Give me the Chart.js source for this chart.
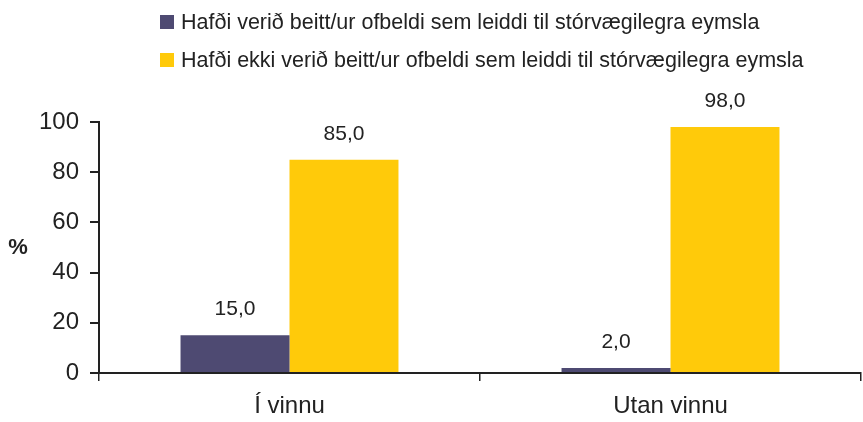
<!DOCTYPE html>
<html>
<head>
<meta charset="utf-8">
<script src="https://cdn.jsdelivr.net/npm/chart.js@4"></script>
<style>
  html, body { margin: 0; padding: 0; background: #fff; }
  #wrap { position: relative; width: 863px; height: 422px; }
  #legend { position: absolute; left: 160px; top: 3px; font-family: "Liberation Sans", Arial, sans-serif; font-size: 21.5px; color: #222; }
  #legend .row { display: flex; align-items: center; height: 38px; }
  #legend .box { width: 14px; height: 14px; margin-right: 7px; flex: none; }
</style>
</head>
<body>
<div id="wrap">
  <div id="legend"></div>
  <canvas id="chart" width="863" height="422"></canvas>
</div>
<script>
// Chart data
const categories = ['Í vinnu', 'Utan vinnu'];
const seriesNames = [
  'Hafði verið beitt/ur ofbeldi sem leiddi til stórvægilegra eymsla',
  'Hafði ekki verið beitt/ur ofbeldi sem leiddi til stórvægilegra eymsla'
];
const injured = [15.0, 2.0];
const notInjured = [85.0, 98.0];
const yTicks = [0, 20, 40, 60, 80, 100];
const colors = ['#4e4a72', '#ffca0a'];

const FONT = '"Liberation Sans", Arial, sans-serif';

// html legend, two rows
const legendEl = document.getElementById('legend');
seriesNames.forEach((name, i) => {
  const row = document.createElement('div');
  row.className = 'row';
  row.innerHTML = `<span class="box" style="background:${colors[i]}"></span><span>${name}</span>`;
  legendEl.appendChild(row);
});

// value labels above bars + horizontal "%" title
const labelsPlugin = {
  id: 'barLabels',
  afterDatasetsDraw(chart) {
    const ctx = chart.ctx;
    ctx.save();
    ctx.fillStyle = '#222';
    ctx.font = '21px ' + FONT;
    ctx.textAlign = 'center';
    ctx.textBaseline = 'alphabetic';
    chart.data.datasets.forEach((ds, i) => {
      chart.getDatasetMeta(i).data.forEach((bar, j) => {
        ctx.fillText(ds.data[j].toFixed(1).replace('.', ','), bar.x, bar.y - 20);
      });
    });
    const area = chart.chartArea;
    ctx.font = 'bold 22px ' + FONT;
    ctx.textBaseline = 'middle';
    ctx.fillText('%', 18, (area.top + area.bottom) / 2);
    ctx.restore();
  }
};

new Chart(document.getElementById('chart'), {
  type: 'bar',
  data: {
    labels: categories,
    datasets: [
      { label: seriesNames[0], data: injured, backgroundColor: colors[0] },
      { label: seriesNames[1], data: notInjured, backgroundColor: colors[1] }
    ]
  },
  options: {
    responsive: false,
    animation: false,
    layout: { padding: { top: 122, right: 2, left: 0, bottom: 0 } },
    datasets: { bar: { categoryPercentage: 0.572, barPercentage: 1 } },
    plugins: {
      legend: { display: false },
      tooltip: { enabled: false }
    },
    scales: {
      x: {
        grid: { offset: true, drawOnChartArea: false, drawTicks: true, tickLength: 8, color: '#222', lineWidth: 1.5 },
        border: { color: '#222', width: 2 },
        ticks: { color: '#222', font: { family: FONT, size: 24 }, padding: 11 },
        afterFit(scale) { scale.height = 49; }
      },
      y: {
        min: 0,
        max: 100,
        afterBuildTicks(scale) { scale.ticks = yTicks.map(v => ({ value: v })); },
        grid: { drawOnChartArea: false, drawTicks: true, tickLength: 9, color: '#222', lineWidth: 2 },
        border: { color: '#222', width: 2 },
        ticks: { color: '#222', font: { family: FONT, size: 24 }, padding: 11 },
        afterFit(scale) { scale.width = 99; }
      }
    }
  },
  plugins: [labelsPlugin]
});
</script>
</body>
</html>
